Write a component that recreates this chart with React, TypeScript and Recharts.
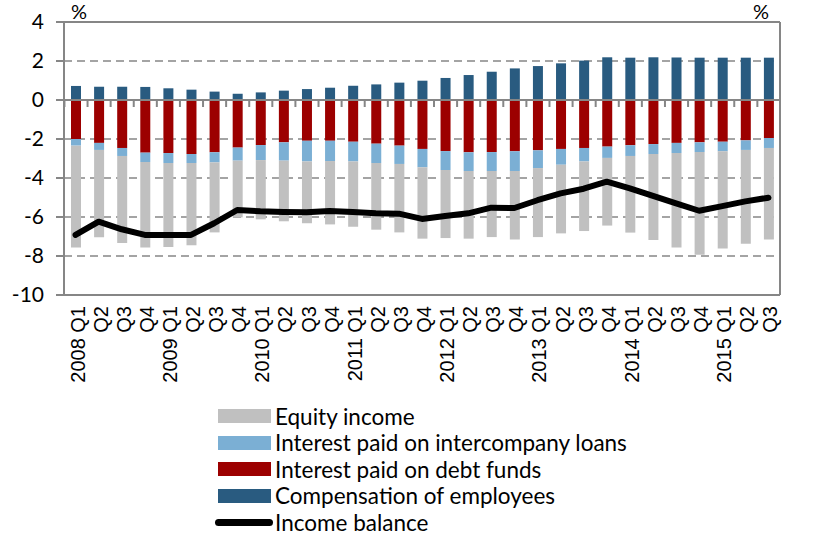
import {Bar, CartesianGrid, ComposedChart, Customized, Legend, Line, ReferenceLine, XAxis, YAxis} from "recharts";

const periods = [
    '2008 Q1', '2008 Q2', '2008 Q3', '2008 Q4', '2009 Q1', '2009 Q2', '2009 Q3', '2009 Q4',
    '2010 Q1', '2010 Q2', '2010 Q3', '2010 Q4', '2011 Q1', '2011 Q2', '2011 Q3', '2011 Q4',
    '2012 Q1', '2012 Q2', '2012 Q3', '2012 Q4', '2013 Q1', '2013 Q2', '2013 Q3', '2013 Q4',
    '2014 Q1', '2014 Q2', '2014 Q3', '2014 Q4', '2015 Q1', '2015 Q2', '2015 Q3',
];

const compensation = [0.72, 0.68, 0.68, 0.67, 0.60, 0.53, 0.43, 0.32, 0.39, 0.48, 0.56, 0.63, 0.73, 0.80, 0.89, 0.99,
    1.13, 1.28, 1.45, 1.62, 1.74, 1.88, 2.02, 2.19, 2.17, 2.19, 2.18, 2.17, 2.17, 2.17, 2.17];
const debtFunds = [-2.00, -2.20, -2.46, -2.70, -2.72, -2.77, -2.68, -2.44, -2.31, -2.17, -2.09, -2.09, -2.14, -2.24, -2.34, -2.51,
    -2.62, -2.68, -2.67, -2.63, -2.58, -2.51, -2.46, -2.39, -2.32, -2.26, -2.20, -2.17, -2.14, -2.07, -1.95];
const intercompany = [-0.34, -0.36, -0.41, -0.48, -0.51, -0.46, -0.52, -0.67, -0.77, -0.94, -1.06, -1.04, -1.01, -0.99, -0.94, -0.94,
    -0.97, -0.96, -0.97, -1.01, -0.91, -0.81, -0.69, -0.58, -0.55, -0.51, -0.52, -0.50, -0.49, -0.49, -0.51];
const equity = [-5.23, -4.48, -4.46, -4.39, -4.31, -4.22, -3.59, -2.91, -3.04, -3.11, -3.17, -3.25, -3.35, -3.42, -3.51, -3.66,
    -3.49, -3.47, -3.39, -3.52, -3.54, -3.52, -3.57, -3.47, -3.93, -4.41, -4.84, -5.26, -4.99, -4.81, -4.70];
const incomeBalance = [-6.92, -6.24, -6.63, -6.92, -6.92, -6.92, -6.32, -5.64, -5.71, -5.74, -5.76, -5.69, -5.74, -5.81, -5.83, -6.10,
    -5.95, -5.81, -5.52, -5.54, -5.14, -4.79, -4.55, -4.19, -4.53, -4.92, -5.30, -5.68, -5.44, -5.20, -5.01];

const yTicks = [-10, -8, -6, -4, -2, 0, 2, 4];
const yDomain = [-10, 4];

const data = periods.map((p, i) => ({
    p,
    compensation: compensation[i],
    debtFunds: debtFunds[i],
    intercompany: intercompany[i],
    equity: equity[i],
    income: incomeBalance[i],
}));

const colors = {
    equity: '#c0c0c0',
    intercompany: '#7bafd4',
    debtFunds: '#9c0000',
    compensation: '#295b80',
    income: '#000000',
    axis: '#868686',
};

const legendItems = [
    {name: 'Equity income', color: colors.equity, line: false},
    {name: 'Interest paid on intercompany loans', color: colors.intercompany, line: false},
    {name: 'Interest paid on debt funds', color: colors.debtFunds, line: false},
    {name: 'Compensation of employees', color: colors.compensation, line: false},
    {name: 'Income balance', color: colors.income, line: true},
];

const chartW = 836;
const chartH = 535;
const leftAxisW = 64;
const rightAxisW = 56;
const halfBand = (chartW - leftAxisW - rightAxisW) / periods.length / 2;

// year shown only on the first quarter
const periodLabel = (p: string) => p.endsWith('Q1') ? p : p.slice(5);

function QuarterTick({x, y, payload}: any) {
    const tx = x + 2;
    const ty = y + 3;
    return (
        <text x={tx} y={ty} transform={`rotate(-90, ${tx}, ${ty})`} textAnchor='end' dominantBaseline='central'
              fontSize={20} fontFamily='Liberation Sans' fill='#000'>
            {periodLabel(payload.value)}
        </text>
    );
}

// compensation bar, plus the short category tick under the zero line to its left
const CompensationBar = (props: any) => {
    const {x, y, width, height, fill} = props;
    const base = Math.max(y, y + height);
    const top = Math.min(y, y + height);
    const tx = x + width / 2 - halfBand;
    return (
        <g>
            <rect x={x} y={top} width={width} height={Math.abs(height)} fill={fill}/>
            <line x1={tx} x2={tx} y1={base} y2={base + 7} stroke={colors.axis} strokeWidth={2}/>
        </g>
    );
};

function ChartLegend() {
    return (
        <div style={{height: 140, width: chartW, position: 'relative', fontFamily: 'Lato', fontSize: 22.5, color: '#000'}}>
            {legendItems.map((item, i) => (
                <div key={item.name} style={{position: 'absolute', left: 215, top: 8 + i * 26.5, height: 26, display: 'flex', alignItems: 'center'}}>
                    {item.line
                        ? <div style={{width: 58, height: 7, borderRadius: 4, background: item.color}}/>
                        : <div style={{width: 53, height: 14, marginLeft: 3, marginRight: 2, background: item.color}}/>}
                    <span style={{marginLeft: 2, whiteSpace: 'nowrap'}}>{item.name}</span>
                </div>
            ))}
        </div>
    );
}

function PercentLabels() {
    return (
        <g fontFamily='Lato' fontSize={20} fill='#000'>
            <text x={71} y={19}>%</text>
            <text x={753} y={19}>%</text>
        </g>
    );
}

export default function App() {
    return (
        <div style={{position: 'absolute', left: 0, top: 0, fontFamily: 'Lato'}}>
            <ComposedChart width={chartW} height={chartH} data={data} stackOffset='sign'
                           margin={{top: 22, right: 0, left: 0, bottom: 0}} barSize={10}>
                <CartesianGrid yAxisId='left' vertical={false} stroke={colors.axis} strokeWidth={1.6} strokeDasharray='8 5'/>
                <XAxis dataKey='p' interval={0} height={100} axisLine={false} tickLine={false} tick={<QuarterTick/>}/>
                <YAxis yAxisId='left' width={leftAxisW} domain={yDomain} ticks={yTicks} tickSize={8} tickMargin={12}
                       axisLine={{stroke: colors.axis, strokeWidth: 2}} tickLine={{stroke: colors.axis, strokeWidth: 2}}
                       tick={{fill: '#000', fontSize: 21}}/>
                <YAxis yAxisId='right' orientation='right' width={rightAxisW} domain={yDomain} ticks={yTicks} tickSize={8} tickMargin={4}
                       axisLine={{stroke: colors.axis, strokeWidth: 2}} tickLine={{stroke: colors.axis, strokeWidth: 2}}
                       tick={{fill: '#000', fontSize: 21}}/>
                <Legend verticalAlign='bottom' content={<ChartLegend/>}/>
                <ReferenceLine yAxisId='left' y={4} stroke={colors.axis} strokeWidth={2}/>
                <ReferenceLine yAxisId='left' y={-10} stroke={colors.axis} strokeWidth={2}/>
                <Bar yAxisId='left' dataKey='compensation' stackId='s' fill={colors.compensation} shape={CompensationBar}
                     isAnimationActive={false}/>
                <Bar yAxisId='left' dataKey='debtFunds' stackId='s' fill={colors.debtFunds} isAnimationActive={false}/>
                <Bar yAxisId='left' dataKey='intercompany' stackId='s' fill={colors.intercompany} isAnimationActive={false}/>
                <Bar yAxisId='left' dataKey='equity' stackId='s' fill={colors.equity} isAnimationActive={false}/>
                <ReferenceLine yAxisId='left' y={0} stroke={colors.axis} strokeWidth={2}/>
                <Line yAxisId='left' dataKey='income' type='linear' stroke={colors.income} strokeWidth={6} dot={false}
                      strokeLinecap='round' strokeLinejoin='round' isAnimationActive={false}/>
                <Customized component={<PercentLabels/>}/>
            </ComposedChart>
        </div>
    );
}
